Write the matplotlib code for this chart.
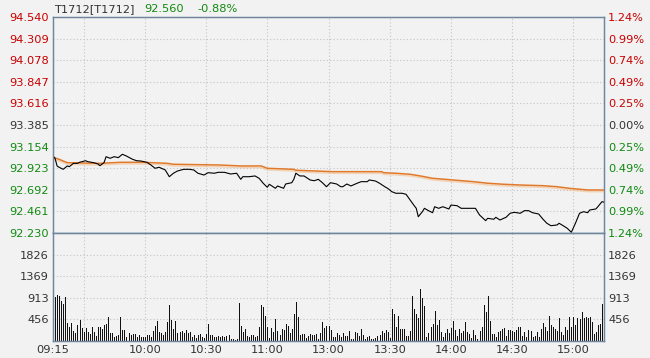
import numpy as np
import matplotlib
matplotlib.use("Agg")
import matplotlib.pyplot as plt
import matplotlib.patheffects as pe

# --- data ---
symbol = "T1712[T1712]"
last_price = "92.560"
last_change = "-0.88%"

price_ticks = [92.230, 92.461, 92.692, 92.923, 93.154, 93.385,
               93.616, 93.847, 94.078, 94.309, 94.540]
pct_labels = ["1.24%", "0.99%", "0.74%", "0.49%", "0.25%", "0.00%",
              "0.25%", "0.49%", "0.74%", "0.99%", "1.24%"]
base_price = 93.385

vol_ticks = [456, 913, 1369, 1826]
vol_top = 2282

# minutes since 09:15 in trading time (11:30 and 13:00 share one slot)
time_ticks = [0, 45, 75, 105, 135, 165, 195, 225, 255]
time_labels = ["09:15", "10:00", "10:30", "11:00", "13:00", "13:30", "14:00", "14:30", "15:00"]
grid_minutes = [15, 45, 75, 105, 135, 165, 195, 225, 255]
n_minutes = 270

price_min = [0, 1, 2, 3, 5, 7, 8, 10, 12, 13, 16, 17, 20, 22, 23, 25, 26, 28, 30, 32,
             34, 36, 39, 41, 43, 46, 48, 50, 52, 55, 57, 59, 61, 64, 67, 69, 71, 74, 76, 79,
             81, 84, 87, 90, 92, 93, 96, 99, 101, 103, 105, 106, 109, 110, 113, 114, 117, 118, 119, 121,
             123, 126, 128, 130, 132, 134, 136, 139, 141, 142, 144, 146, 149, 151, 154, 155, 158, 160, 163, 164,
             166, 168, 171, 173, 175, 177, 178, 179, 181, 182, 184, 186, 187, 189, 191, 194, 195, 198, 200, 204,
             207, 209, 212, 213, 216, 217, 219, 222, 224, 226, 229, 231, 233, 235, 238, 240, 242, 244, 247, 248,
             250, 252, 254, 256, 258, 260, 262, 263, 266, 267, 269, 270]
price_val = [93.053, 93.029, 92.947, 92.933, 92.911, 92.947, 92.939, 92.975, 92.975, 92.986,
             93.003, 92.993, 92.982, 92.968, 92.950, 92.982, 93.046, 93.029, 93.046, 93.036,
             93.072, 93.053, 93.018, 93.003, 93.000, 92.986, 92.957, 92.922, 92.933, 92.904,
             92.832, 92.869, 92.893, 92.911, 92.911, 92.904, 92.869, 92.850, 92.875, 92.869,
             92.879, 92.879, 92.861, 92.869, 92.804, 92.832, 92.832, 92.840, 92.815, 92.762,
             92.719, 92.751, 92.708, 92.733, 92.708, 92.754, 92.768, 92.804, 92.869, 92.840,
             92.840, 92.797, 92.789, 92.804, 92.768, 92.725, 92.768, 92.754, 92.725, 92.725,
             92.754, 92.733, 92.762, 92.779, 92.779, 92.797, 92.786, 92.762, 92.719, 92.708,
             92.672, 92.655, 92.655, 92.644, 92.583, 92.522, 92.494, 92.404, 92.458, 92.494,
             92.469, 92.447, 92.511, 92.494, 92.511, 92.487, 92.529, 92.522, 92.494, 92.494,
             92.494, 92.423, 92.362, 92.387, 92.377, 92.398, 92.369, 92.398, 92.441, 92.451,
             92.441, 92.469, 92.469, 92.447, 92.433, 92.380, 92.334, 92.308, 92.316, 92.334,
             92.308, 92.280, 92.238, 92.334, 92.441, 92.458, 92.447, 92.476, 92.487, 92.511,
             92.565, 92.560]

avg_min = [0, 3, 7, 23, 33, 44, 56, 59, 82, 92, 102, 105, 118, 119, 137, 161, 162, 168,
           175, 180, 186, 196, 206, 213, 221, 229, 240, 247, 253, 262, 270]
avg_val = [93.040, 93.018, 92.982, 92.975, 92.986, 92.986, 92.975, 92.965, 92.957, 92.947,
           92.947, 92.922, 92.911, 92.901, 92.886, 92.886, 92.875, 92.869, 92.858, 92.840,
           92.815, 92.797, 92.779, 92.762, 92.751, 92.743, 92.736, 92.725, 92.708, 92.690,
           92.690]

volume = [2500, 936, 971, 950, 851, 781, 936, 387, 302, 387, 218, 176, 338, 443, 281, 197, 281,
          197, 148, 302, 197, 106, 302, 302, 246, 338, 359, 500, 176, 176, 77, 106, 127, 500, 232,
          232, 91, 162, 127, 148, 148, 77, 120, 91, 91, 91, 120, 120, 91, 218, 317, 429, 197, 176,
          127, 197, 408, 760, 443, 253, 429, 162, 197, 218, 162, 232, 176, 197, 77, 127, 56, 127,
          148, 77, 56, 148, 359, 127, 127, 77, 77, 106,
          77, 106, 77, 106, 127, 42, 35, 21, 35, 809, 317, 197, 260, 106, 77, 127, 127, 91, 106,
          302, 760, 725, 528, 288, 56, 281, 197, 458, 218, 127, 246, 232, 359, 317, 162, 246, 570,
          831, 500, 127, 148, 141, 56, 106, 148, 127, 120, 148, 42, 176, 408, 281, 317, 317, 232,
          77, 77, 162, 127, 91, 162, 106, 106, 218, 35, 35, 197, 162, 106, 246, 127, 35, 77, 106,
          35, 35, 56, 106, 127, 211, 162, 232, 197, 56, 676, 570, 302, 528, 253, 246, 246, 106,
          106, 218, 950, 676, 570, 479, 1090,
          901, 739, 91, 162, 288, 359, 640, 338, 443, 197, 91, 176, 246, 162, 267, 429, 232, 106,
          246, 162, 218, 401, 197, 148, 56, 232, 127, 35, 218, 288, 760, 619, 957, 429, 148, 148,
          77, 197, 218, 253, 274, 106, 232, 232, 218, 197, 232, 302, 288, 106, 197, 77, 232, 218,
          91, 106, 197, 77, 246, 387, 302, 218, 528, 338, 288, 246, 218, 479, 197, 127, 302, 232,
          500, 302, 514, 338, 479, 458, 619, 479, 500, 479, 500, 408, 148, 197, 338, 359, 781]

# --- style ---
BG = "#f2f2f2"
SPINE = "#6f879e"
GRID = "#c4c4c4"
RED = "#c80000"
GREEN = "#108a10"
TXT = "#333333"
FS = 8.2

plt.rcParams["font.family"] = ["DejaVu Sans"]

W, H = 650, 358
fig = plt.figure(figsize=(W / 100, H / 100), dpi=100, facecolor=BG)


def box(l, t, r, b):
    return [l / W, 1 - b / H, (r - l) / W, (b - t) / H]


ax = fig.add_axes(box(53, 17, 604, 233))
axv = fig.add_axes(box(53, 233, 604, 341), sharex=ax)

for a in (ax, axv):
    a.set_facecolor(BG)
    for s in a.spines.values():
        s.set_color(SPINE)
        s.set_linewidth(1)
    a.set_xlim(0, n_minutes)
    for m in grid_minutes:
        a.axvline(m, color=GRID, lw=0.8, ls=(0, (1, 2)), zorder=0)
    a.tick_params(length=0)

# price panel
ax.set_ylim(price_ticks[0], price_ticks[-1])
ax.set_yticks(price_ticks)
ax.set_yticklabels([f"{p:.3f}" for p in price_ticks], fontsize=FS)
for p in price_ticks[1:-1]:
    ax.axhline(p, color=GRID, lw=0.8, ls=(0, (1, 2)), zorder=0)


def col(p):
    if abs(p - base_price) < 1e-6:
        return TXT
    return RED if p > base_price else GREEN


for lab, p in zip(ax.get_yticklabels(), price_ticks):
    lab.set_color(col(p))
ax.tick_params(axis="y", pad=3)
ax.tick_params(axis="x", labelbottom=False)

axr = ax.twinx()
axr.set_ylim(ax.get_ylim())
axr.set_yticks(price_ticks)
axr.set_yticklabels(pct_labels, fontsize=FS)
for lab, p in zip(axr.get_yticklabels(), price_ticks):
    lab.set_color(col(p))
axr.tick_params(length=0, pad=3)
for s in axr.spines.values():
    s.set_color(SPINE)

ax.plot(avg_min, avg_val, color="#e07a2a", lw=1.1, zorder=3,
        path_effects=[pe.SimpleLineShadow(offset=(0, -1.2), shadow_color="#f5b57a", alpha=0.5),
                      pe.Normal()])
ax.plot(price_min, price_val, color="black", lw=0.8, zorder=4)
ax.vlines(price_min[0], price_ticks[0], price_val[0], color="black", lw=1.2, zorder=4)

# volume panel
vx = np.arange(len(volume))
axv.vlines(vx, 0, volume, color="#111111", lw=0.72, antialiased=False)
axv.set_ylim(0, vol_top)
axv.set_yticks(vol_ticks)
axv.set_yticklabels([str(v) for v in vol_ticks], fontsize=FS, color=TXT)
for v in vol_ticks:
    axv.axhline(v, color=GRID, lw=0.8, ls=(0, (1, 2)), zorder=0)
axv.tick_params(axis="y", pad=3)
axv.set_xticks(time_ticks)
axv.set_xticklabels(time_labels, fontsize=FS, color=TXT)
axv.tick_params(axis="x", pad=3)

axvr = axv.twinx()
axvr.set_ylim(axv.get_ylim())
axvr.set_yticks(vol_ticks)
axvr.set_yticklabels([str(v) for v in vol_ticks], fontsize=FS, color=TXT)
axvr.tick_params(length=0, pad=3)
for s in axvr.spines.values():
    s.set_color(SPINE)

# header
fig.text(54 / W, 1 - 9 / H, symbol, fontsize=FS, color=TXT, va="center")
fig.text(144 / W, 1 - 9 / H, last_price, fontsize=FS, color=GREEN, va="center")
fig.text(197 / W, 1 - 9 / H, last_change, fontsize=FS, color=GREEN, va="center")

fig.savefig("out.png", dpi=100, facecolor=BG)
